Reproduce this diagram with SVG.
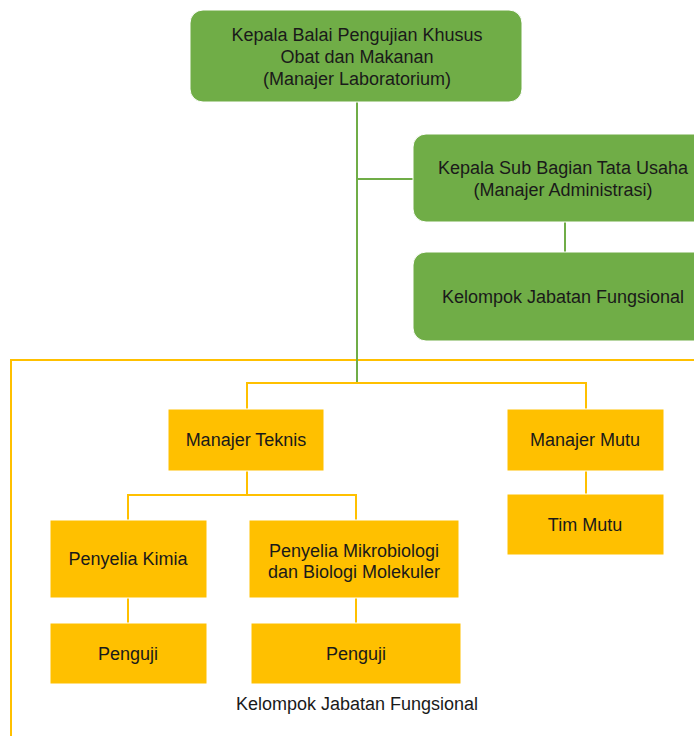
<svg xmlns="http://www.w3.org/2000/svg" width="694" height="736" viewBox="0 0 694 736">
<style>
.g{fill:#70AD47;stroke:#ffffff;stroke-width:1}
.y{fill:#FFC000;stroke:#ffffff;stroke-width:1}
.t{font-family:"Liberation Sans",Arial,sans-serif;font-size:18px;fill:#1a1a1a;text-anchor:middle}
.cg{stroke:#70AD47;stroke-width:2;fill:none}
.cy{stroke:#FFC000;stroke-width:2;fill:none}
</style>
<rect width="694" height="736" fill="#ffffff"/>
<rect id="frame" x="11" y="360" width="700" height="400" fill="none" stroke="#FFC000" stroke-width="2"/>
<g id="connectors">
<path class="cg" d="M357 101 V383"/>
<path class="cg" d="M357 179 H413"/>
<path class="cg" d="M565 222 V252"/>
<path class="cy" d="M247 409 V383 H586 V409"/>
<path class="cy" d="M247 471 V495"/>
<path class="cy" d="M128 520 V495 H356 V520"/>
<path class="cy" d="M128 598 V623"/>
<path class="cy" d="M356 598 V623"/>
<path class="cy" d="M586 471 V494"/>
</g>
<g id="kepala-balai">
<rect class="g" x="190" y="10" width="332" height="92" rx="13"/>
<text class="t" x="357" y="41">Kepala Balai Pengujian Khusus</text>
<text class="t" x="357" y="63">Obat dan Makanan</text>
<text class="t" x="357" y="85">(Manajer Laboratorium)</text>
</g>
<g id="kasubbag">
<rect class="g" x="413" y="134" width="300" height="88" rx="13"/>
<text class="t" x="563" y="174">Kepala Sub Bagian Tata Usaha</text>
<text class="t" x="563" y="196">(Manajer Administrasi)</text>
</g>
<g id="kjf-green">
<rect class="g" x="413" y="252" width="300" height="89" rx="13"/>
<text class="t" x="563" y="303">Kelompok Jabatan Fungsional</text>
</g>
<g id="manajer-teknis">
<rect class="y" x="168" y="409" width="156" height="62"/>
<text class="t" x="246" y="446">Manajer Teknis</text>
</g>
<g id="manajer-mutu">
<rect class="y" x="507" y="409" width="157" height="62"/>
<text class="t" x="585" y="446">Manajer Mutu</text>
</g>
<g id="tim-mutu">
<rect class="y" x="507" y="494" width="157" height="61"/>
<text class="t" x="585" y="531">Tim Mutu</text>
</g>
<g id="penyelia-kimia">
<rect class="y" x="50" y="520" width="157" height="78"/>
<text class="t" x="128" y="565">Penyelia Kimia</text>
</g>
<g id="penyelia-mikro">
<rect class="y" x="249" y="520" width="210" height="78"/>
<text class="t" x="354" y="557">Penyelia Mikrobiologi</text>
<text class="t" x="354" y="578">dan Biologi Molekuler</text>
</g>
<g id="penguji-1">
<rect class="y" x="50" y="623" width="157" height="61"/>
<text class="t" x="128" y="660">Penguji</text>
</g>
<g id="penguji-2">
<rect class="y" x="251" y="623" width="210" height="61"/>
<text class="t" x="356" y="660">Penguji</text>
</g>
<text class="t" x="357" y="710">Kelompok Jabatan Fungsional</text>
</svg>
